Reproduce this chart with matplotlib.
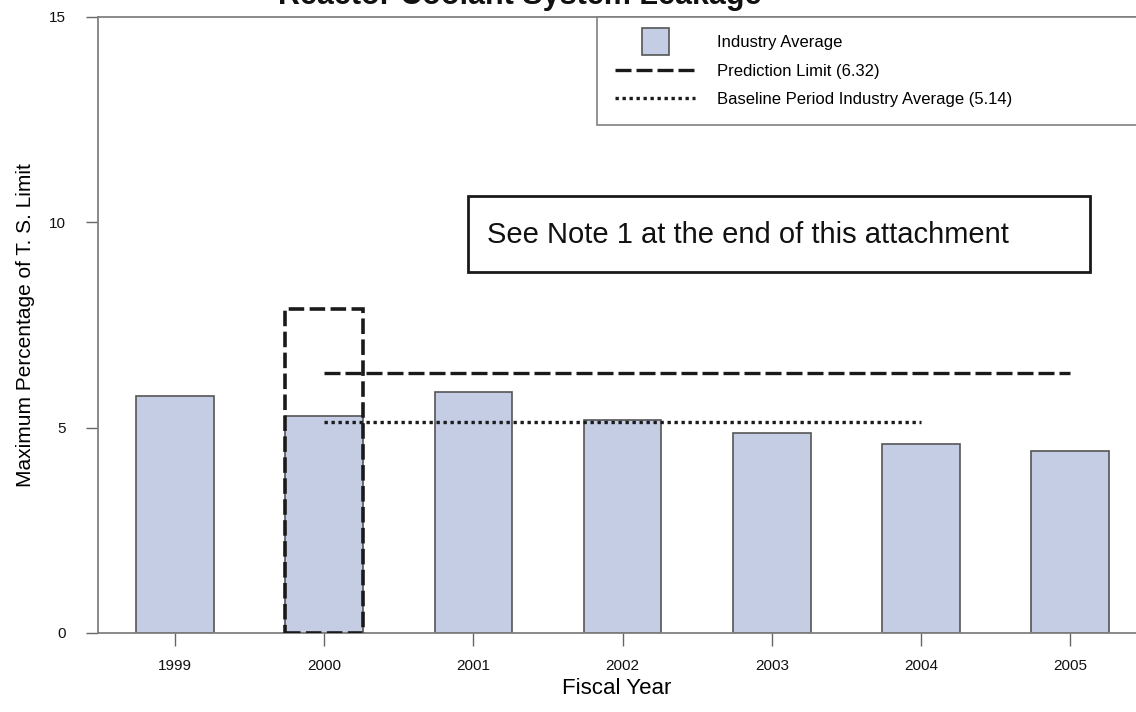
import numpy as np
import matplotlib.pyplot as plt
from matplotlib.patches import Rectangle, Patch
from matplotlib.lines import Line2D
from matplotlib.legend_handler import HandlerPatch

plt.rcParams['font.family'] = ['Liberation Sans', 'DejaVu Sans']

# data
years = ["1999", "2000", "2001", "2002", "2003", "2004", "2005"]
industry_avg = [5.77, 5.28, 5.86, 5.18, 4.87, 4.60, 4.43]
prediction_limit = 6.32
prediction_span = ["2000", "2005"]
baseline_avg = 5.14
baseline_span = ["2000", "2004"]
highlight_year = "2000"
highlight_top = 7.9

bar_color = "#c5cde5"
W, H = 1136, 712

fig = plt.figure(figsize=(W / 100, H / 100), dpi=100)
ax = fig.add_axes([98 / W, 79 / H, 1 - 98 / W, (633 - 17) / H])

x = np.arange(len(years))
bar_w = 0.52
ax.bar(x, industry_avg, width=bar_w, color=bar_color, edgecolor="#555555", linewidth=1.2, zorder=2)

# prediction limit and baseline lines
p0, p1 = years.index(prediction_span[0]), years.index(prediction_span[1])
ax.plot([p0, p1], [prediction_limit] * 2, color="#1a1a1a", lw=2.4, dashes=(4.8, 1.5),
        solid_capstyle="butt", dash_capstyle="butt", zorder=3)
b0, b1 = years.index(baseline_span[0]), years.index(baseline_span[1])
ax.plot([b0, b1], [baseline_avg] * 2, color="#1a1a1a", lw=2.4, dashes=(1, 1.1),
        dash_capstyle="butt", zorder=3)

# dashed box around the 2000 bar
hi = years.index(highlight_year)
ax.add_patch(Rectangle((hi - bar_w / 2, 0), bar_w, highlight_top, fill=False,
                       edgecolor="#1a1a1a", lw=2.6, linestyle=(0, (4.3, 1.5)), zorder=4))

ax.set_xlim((98 - 175) / 149.2, (W - 175) / 149.2)
ax.set_ylim(0, 15)
ax.set_yticks([0, 5, 10, 15])
ax.set_xticks(x)
ax.set_xticklabels(years)
ax.tick_params(axis="both", direction="out", length=9, width=1, color="#666666",
               labelsize=11, labelcolor="#111111")
ax.tick_params(axis="x", pad=10)
ax.tick_params(axis="y", pad=14)
for s in ["left", "bottom", "top"]:
    ax.spines[s].set_color("#808080")
    ax.spines[s].set_linewidth(1.3)
ax.spines["right"].set_visible(False)

ax.set_xlabel("Fiscal Year", fontsize=16, labelpad=3)
ax.set_ylabel("Maximum Percentage of T. S. Limit", fontsize=15, labelpad=10)


def square_patch(legend, orig_handle, xdescent, ydescent, width, height, fontsize):
    s = 19
    return Rectangle((-xdescent + width / 2 - s / 2, -ydescent + height / 2 - s / 2), s, s)


handles = [
    Patch(facecolor=bar_color, edgecolor="#555555", linewidth=1.2),
    Line2D([], [], color="#1a1a1a", lw=2.4, dashes=(4.8, 1.5), dash_capstyle="butt"),
    Line2D([], [], color="#1a1a1a", lw=2.4, dashes=(1, 1.1), dash_capstyle="butt"),
]
labels = ["Industry Average", "Prediction Limit (6.32)", "Baseline Period Industry Average (5.14)"]
ax_w = W - 98
leg = ax.legend(handles, labels, loc="upper left",
                bbox_to_anchor=((597 - 98) / ax_w, 0, (W + 20 - 597) / ax_w, 1.0),
                mode="expand", fontsize=12, handlelength=4.8, handletextpad=1.3,
                labelspacing=0.8, borderpad=1.1, borderaxespad=0, fancybox=False,
                framealpha=1, edgecolor="#808080",
                handler_map={Patch: HandlerPatch(patch_func=square_patch)})
leg.get_frame().set_linewidth(1.2)
leg.set_zorder(5)

# note box
fig.add_artist(Rectangle((468 / W, 1 - 272 / H), (1090 - 468) / W, (272 - 196) / H,
                         transform=fig.transFigure, fill=False, edgecolor="#1a1a1a", lw=2))
fig.text(487 / W, 1 - 235 / H, "See Note 1 at the end of this attachment",
         fontsize=21, va="center", ha="left", color="#111111")

# title (cut off at the top in the reference)
fig.text(520 / W, 1 - 4 / H, "Reactor Coolant System Leakage", fontsize=22,
         fontweight="bold", ha="center", va="baseline", color="#111111")

fig.savefig("out.png", dpi=100)
